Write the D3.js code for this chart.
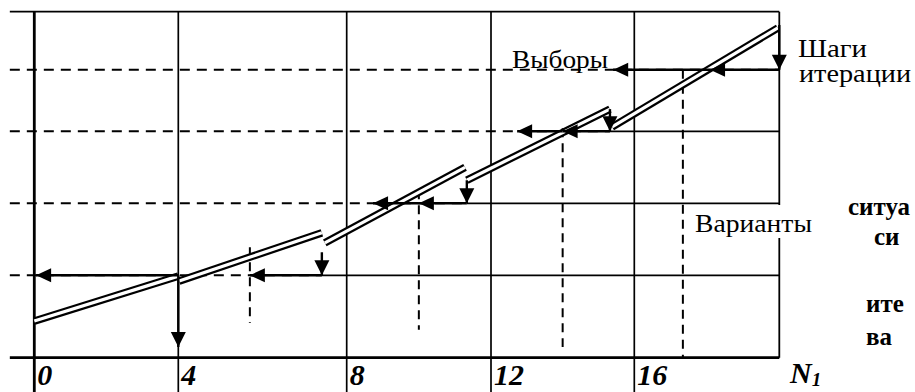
<!DOCTYPE html>
<html><head><meta charset="utf-8">
<script src="https://cdn.jsdelivr.net/npm/d3@7"></script>
<style>
html,body{margin:0;padding:0;background:#fff;overflow:hidden}
svg text{font-family:"Liberation Serif","Times New Roman","DejaVu Serif",serif}
</style>
</head><body>
<svg id="c" width="915" height="392"></svg>
<script>
// ---- data (x in N1 units, y in grid levels) ----
const xTickValues = [0, 4, 8, 12, 16];
const xTickLabels = ["0", "4", "8", "12", "16"];
const axisTitle = "N";
const axisTitleSub = "1";
const rowLevels = [1, 2, 3, 4];
const rowBreakX = [7.41, 11.33, 15.32, 20];        // dashed left of this, solid right of it
// iteration steps (double lines)
const stepX0 = [0, 4.02, 7.48, 11.33, 15.38];
const stepY0 = [0.445, 0.93, 1.45, 2.32, 3.07];
const stepX1 = [4, 7.41, 11.28, 15.32, 19.96];
const stepY1 = [0.99, 1.59, 2.50, 3.36, 4.72];
// downward arrows
const dropX    = [4, 7.41, 11.33, 15.32, 20];
const dropFrom = [1, 1.32, 2.32, 3.36, 4.77];
const dropTo   = [0.13, 1, 2, 3, 4];
// leftward arrows along rows
const leftRow  = [1, 1, 2, 2, 3, 3, 4, 4];
const leftFrom = [4, 7.41, 10, 11.33, 14, 15.32, 18.09, 20];
const leftTo   = [0.05, 5.7, 8.73, 10, 12.73, 14, 15.41, 18.09];
// variants (dashed verticals)
const variantX      = [5.7, 10, 14, 17.34];
const variantTop    = [1.39, 2.18, 3.05, 4];
const variantBottom = [0.42, 0.34, 0.13, 0];
// labels
const labelChoices = "Выборы";
const labelSteps = ["Шаги", "итерации"];
const labelVariants = "Варианты";
const sideText = ["ситуа", "си", "ите", "ва"];

// ---- scales ----
const x = d3.scaleLinear().domain([0, 4, 8, 12, 16, 20]).range([34.3, 178.3, 346.7, 491, 634.3, 779.3]);
const y = d3.scaleLinear().domain([0, 1, 2, 3, 4, 5]).range([357.7, 275.3, 203.3, 131.3, 69.7, 11.7]);
const xLeft = -0.68, yBottomEdge = -0.42;

const svg = d3.select("#c");
const g = svg.append("g");

function seg(x0, y0, x1, y1, w, dash) {
  const l = g.append("line")
    .attr("x1", x(x0)).attr("y1", y(y0)).attr("x2", x(x1)).attr("y2", y(y1))
    .attr("stroke", "#000").attr("stroke-width", w);
  if (dash) l.attr("stroke-dasharray", dash);
  return l;
}
function head(tx, ty, fx, fy, len, hw) {
  const X = x(tx), Y = y(ty), FX = x(fx), FY = y(fy);
  const a = Math.atan2(Y - FY, X - FX);
  const bx = X - len * Math.cos(a), by = Y - len * Math.sin(a);
  const px = -Math.sin(a) * hw, py = Math.cos(a) * hw;
  g.append("path")
    .attr("d", `M${X},${Y}L${bx + px},${by + py}L${bx - px},${by - py}Z`)
    .attr("fill", "#000");
}

// frame
seg(xLeft, 5, 20, 5, 1.8);
seg(xLeft, 0, 20, 0, 2.8);
seg(0, 5, 0, yBottomEdge, 2.8);
xTickValues.slice(1).forEach(v => seg(v, 5, v, yBottomEdge, 1.7));
seg(20, 5, 20, 0, 1.8);

// rows
rowLevels.forEach((lv, i) => {
  seg(xLeft, lv, rowBreakX[i], lv, 2, "10,7");
  if (rowBreakX[i] < 20) seg(rowBreakX[i], lv, 20, lv, 1.7);
});

// variants
variantX.forEach((vx, i) => seg(vx, variantTop[i], vx, variantBottom[i], 2, "9,6"));

// double lines
stepX0.forEach((sx, i) => {
  seg(sx, stepY0[i], stepX1[i], stepY1[i], 7.6);
  seg(sx, stepY0[i], stepX1[i], stepY1[i], 3.2).attr("stroke", "#fff");
});

// left arrows
leftRow.forEach((lv, i) => {
  seg(leftFrom[i], lv, leftTo[i], lv, 2.6);
  head(leftTo[i], lv, leftFrom[i], lv, 15, 7);
});
// drop arrows
dropX.forEach((dx, i) => {
  seg(dx, dropFrom[i], dx, dropTo[i], 2.4);
  head(dx, dropTo[i], dx, dropFrom[i], 15, 7.5);
});

// tick labels
xTickValues.forEach((v, i) => {
  g.append("text").attr("x", x(v) + 3).attr("y", 385)
    .attr("font-size", 30)
    .attr("font-weight", "bold").attr("font-style", "italic")
    .text(xTickLabels[i]);
});
const nt = g.append("text").attr("x", 790).attr("y", 383)
  .attr("font-size", 30)
  .attr("font-weight", "bold").attr("font-style", "italic");
nt.append("tspan").text(axisTitle);
nt.append("tspan").attr("font-size", 19).attr("dy", 3).text(axisTitleSub);

// annotations
g.append("text").attr("x", 512).attr("y", 68)
  .attr("font-size", 25).attr("textLength", 96).attr("lengthAdjust", "spacingAndGlyphs").text(labelChoices);
g.append("text").attr("x", 798).attr("y", 57)
  .attr("font-size", 25).attr("textLength", 69).attr("lengthAdjust", "spacingAndGlyphs").text(labelSteps[0]);
g.append("text").attr("x", 799).attr("y", 82)
  .attr("font-size", 25).attr("textLength", 112).attr("lengthAdjust", "spacingAndGlyphs").text(labelSteps[1]);

const vt = g.append("text").attr("x", 695).attr("y", 232)
  .attr("font-size", 25).attr("textLength", 117).attr("lengthAdjust", "spacingAndGlyphs").text(labelVariants);
const bb = vt.node().getBBox();
g.insert("rect", function () { return vt.node(); })
  .attr("x", bb.x - 3).attr("y", 205).attr("width", bb.width + 6).attr("height", 33)
  .attr("fill", "#fff");

const sidePos = [[848, 215], [874, 245], [866, 312], [866, 345]];
sideText.forEach((t, i) => {
  g.append("text").attr("x", sidePos[i][0]).attr("y", sidePos[i][1])
    .attr("font-size", 25).attr("font-weight", "bold").text(t);
});
</script>
</body></html>
